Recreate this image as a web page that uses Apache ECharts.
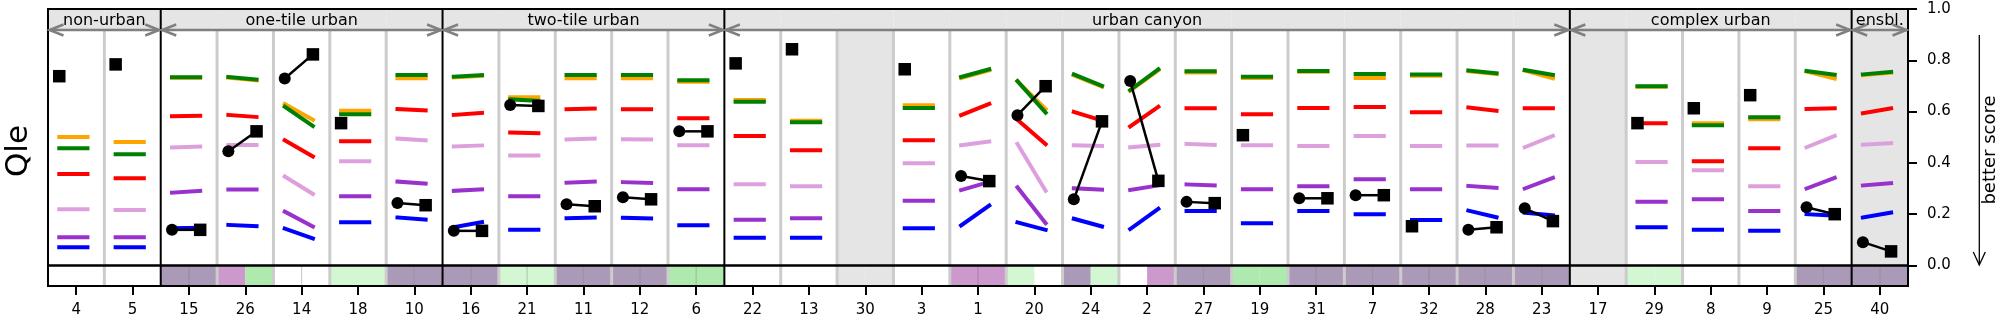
<!DOCTYPE html>
<html>
<head>
<meta charset="utf-8">
<script src="https://cdn.jsdelivr.net/npm/echarts@6/dist/echarts.min.js"></script>
<style>
  html, body { margin: 0; padding: 0; background: #fff; }
  #chart { width: 2005px; height: 325px; }
</style>
</head>
<body>
<div id="chart"></div>
<script>
// Flux sites, in plotting order
const sites = ['4','5','15','26','14','18','10','16','21','11','12','6','22','13','30','3','1','20','24','2','27','19','31','7','32','28','23','17','29','8','9','25','40'];

// Site groups (names and number of sites in each)
const groupNames = ['non-urban', 'one-tile urban', 'two-tile urban', 'urban canyon', 'complex urban', 'ensbl.'];
const groupSizes = [2, 5, 5, 15, 5, 1];

// Benchmark scores: [first model, second model] per site (null = no data)
const orangeVals = [[0.501,0.501],[0.481,0.481],[0.732,0.732],[0.732,0.722],[0.630,0.568],[0.603,0.603],[0.730,0.730],[0.733,0.739],[0.656,0.656],[0.730,0.730],[0.730,0.730],[0.716,0.716],[0.645,0.645],[0.564,0.564],null,[0.625,0.625],[0.731,0.761],[0.718,0.610],[0.741,0.697],[0.681,0.761],[0.752,0.752],[0.731,0.731],[0.755,0.755],[0.731,0.731],[0.740,0.740],[0.757,0.746],[0.760,0.730],null,[0.697,0.697],[0.555,0.555],[0.570,0.570],[0.756,0.729],[0.742,0.752]];
const greenVals = [[0.457,0.457],[0.434,0.434],[0.734,0.734],[0.735,0.725],[0.619,0.544],[0.590,0.590],[0.743,0.743],[0.736,0.742],[0.648,0.642],[0.743,0.743],[0.743,0.743],[0.722,0.722],[0.638,0.638],[0.558,0.558],null,[0.614,0.614],[0.735,0.765],[0.719,0.596],[0.745,0.700],[0.684,0.765],[0.757,0.757],[0.736,0.736],[0.758,0.758],[0.747,0.747],[0.745,0.745],[0.760,0.749],[0.762,0.743],null,[0.699,0.699],[0.547,0.547],[0.578,0.578],[0.758,0.744],[0.745,0.755]];
const redVals = [[0.357,0.357],[0.340,0.340],[0.582,0.584],[0.587,0.579],[0.488,0.425],[0.484,0.484],[0.610,0.605],[0.587,0.595],[0.518,0.516],[0.609,0.612],[0.609,0.609],[0.574,0.574],[0.505,0.505],[0.449,0.449],null,[0.488,0.488],[0.586,0.630],[0.568,0.473],[0.599,0.565],[0.542,0.619],[0.613,0.613],[0.590,0.590],[0.614,0.614],[0.618,0.618],[0.597,0.597],[0.616,0.603],[0.613,0.613],null,[0.555,0.555],[0.406,0.406],[0.457,0.457],[0.610,0.613],[0.594,0.613]];
const plumVals = [[0.219,0.219],[0.216,0.216],[0.460,0.464],[0.470,0.470],[0.347,0.279],[0.406,0.406],[0.495,0.488],[0.464,0.468],[0.429,0.429],[0.491,0.495],[0.492,0.491],[0.469,0.469],[0.317,0.317],[0.309,0.309],null,[0.399,0.399],[0.469,0.483],[0.474,0.291],[0.469,0.466],[0.461,0.470],[0.474,0.470],[0.469,0.469],[0.466,0.466],[0.505,0.505],[0.466,0.466],[0.468,0.468],[0.461,0.505],null,[0.403,0.403],[0.371,0.371],[0.309,0.309],[0.461,0.505],[0.471,0.477]];
const purpleVals = [[0.110,0.110],[0.110,0.110],[0.284,0.291],[0.296,0.296],[0.210,0.152],[0.270,0.270],[0.327,0.319],[0.291,0.297],[0.270,0.270],[0.323,0.327],[0.325,0.322],[0.297,0.297],[0.178,0.178],[0.184,0.184],null,[0.252,0.252],[0.294,0.326],[0.305,0.165],[0.301,0.296],[0.294,0.312],[0.316,0.312],[0.297,0.297],[0.309,0.309],[0.336,0.336],[0.297,0.297],[0.310,0.303],[0.300,0.342],null,[0.248,0.248],[0.258,0.258],[0.212,0.212],[0.300,0.342],[0.312,0.321]];
const blueVals = [[0.071,0.071],[0.071,0.071],[0.145,0.147],[0.158,0.153],[0.144,0.105],[0.169,0.169],[0.187,0.179],[0.149,0.169],[0.139,0.139],[0.184,0.187],[0.186,0.183],[0.157,0.157],[0.108,0.108],[0.108,0.108],null,[0.145,0.145],[0.156,0.234],[0.168,0.139],[0.182,0.152],[0.142,0.221],[0.212,0.212],[0.165,0.165],[0.212,0.212],[0.200,0.200],[0.177,0.177],[0.214,0.188],[0.206,0.196],null,[0.149,0.149],[0.139,0.139],[0.135,0.135],[0.200,0.194],[0.187,0.206]];

// Model scores: first model (circle) and second model (square)
const circleVals = [null,null,0.139,0.445,0.729,null,0.244,0.135,0.626,0.239,0.266,0.523,null,null,null,null,0.349,0.586,0.258,0.719,0.248,null,0.262,0.274,null,0.139,0.223,null,null,null,null,0.227,0.091];
const squareVals = [0.738,0.784,0.139,0.523,0.823,0.555,0.235,0.135,0.622,0.231,0.258,0.523,0.788,0.843,null,0.765,0.329,0.699,0.562,0.330,0.243,0.508,0.262,0.274,0.153,0.149,0.173,null,0.555,0.613,0.664,0.200,0.055];

// Site class strip below zero: left / right half codes
const stripLeft  = ['W','W','P','O','W','L','P','P','L','P','P','G','W','W','X','W','O','L','P','W','P','G','P','P','P','P','P','X','L','W','W','P','P'];
const stripRight = ['W','W','P','G','W','L','P','P','L','P','P','G','W','W','X','W','O','W','L','O','P','G','P','P','P','P','P','X','L','W','W','P','P'];
const stripDivider = [0,0,1,0,1,0,1,1,1,1,1,1,0,0,0,0,1,0,0,0,1,0,1,1,1,1,1,0,0,0,0,1,1];

const stripColors = { W: null, P: '#ab99b8', O: '#cc99cc', G: '#aeeaae', L: '#d3f7d3', X: '#e5e5e5' };
const benchmarkColors = ['#ffa500', '#008000', '#ff0000', '#dda0dd', '#9932cc', '#0000ff'];
const benchmarks = [orangeVals, greenVals, redVals, plumVals, purpleVals, blueVals];

const Y_MIN = -0.08, Y_MAX = 1.0, HEAD = 0.918;
const GRAY = '#e5e5e5';
const FONT = 'DejaVu Sans';

// group start/end indices
const groupStart = [];
(function () { let s = 0; groupSizes.forEach(n => { groupStart.push(s); s += n; }); })();
const groupEnd = groupStart.map((s, k) => s + groupSizes[k] - 1);
const isGroupEnd = i => groupEnd.indexOf(i) >= 0;
const ensembleIndex = sites.indexOf('40');

const chart = echarts.init(document.getElementById('chart'), null, { renderer: 'canvas' });
const siteData = sites.map((_, i) => [i, 0]);

function bgItem(params, api) {
  const i = api.value(0);
  const xl = api.coord([i - 0.5, 0])[0], xr = api.coord([i + 0.5, 0])[0], xc = (xl + xr) / 2;
  const yTop = api.coord([0, Y_MAX])[1], yHead = api.coord([0, HEAD])[1];
  const y0 = api.coord([0, 0])[1], yBot = api.coord([0, Y_MIN])[1];
  const ch = [];
  ch.push({ type: 'rect', shape: { x: xl, y: yTop, width: xr - xl, height: yHead - yTop }, style: { fill: GRAY } });
  const missing = orangeVals[i] === null;
  if (missing || i === ensembleIndex) {
    ch.push({ type: 'rect', shape: { x: xl, y: yHead, width: xr - xl, height: y0 - yHead }, style: { fill: GRAY } });
  }
  const cl = stripColors[stripLeft[i]], cr = stripColors[stripRight[i]];
  if (cl) ch.push({ type: 'rect', shape: { x: xl, y: y0, width: xc - xl, height: yBot - y0 }, style: { fill: cl } });
  if (cr) ch.push({ type: 'rect', shape: { x: xc, y: y0, width: xr - xc, height: yBot - y0 }, style: { fill: cr } });
  return { type: 'group', children: ch };
}

function sepItem(params, api) {
  const i = api.value(0);
  const xr = api.coord([i + 0.5, 0])[0], xc = api.coord([i, 0])[0];
  const yHead = api.coord([0, HEAD])[1], y0 = api.coord([0, 0])[1], yBot = api.coord([0, Y_MIN])[1];
  const ch = [];
  if (i < sites.length - 1 && !isGroupEnd(i)) {
    ch.push({ type: 'line', shape: { x1: xr, y1: yHead, x2: xr, y2: yBot }, style: { stroke: '#cccccc', lineWidth: 3 } });
  }
  if (stripDivider[i]) {
    ch.push({ type: 'line', shape: { x1: xc, y1: y0, x2: xc, y2: yBot }, style: { stroke: 'rgba(90,90,90,0.35)', lineWidth: 1 } });
  }
  return { type: 'group', children: ch };
}

function frameItem(params, api) {
  const n = sites.length;
  const xL = api.coord([-0.5, 0])[0], xR = api.coord([n - 0.5, 0])[0];
  const yTop = api.coord([0, Y_MAX])[1], y0 = api.coord([0, 0])[1], yBot = api.coord([0, Y_MIN])[1];
  const ch = [];
  ch.push({ type: 'line', shape: { x1: xL, y1: y0, x2: xR, y2: y0 }, style: { stroke: '#000', lineWidth: 2.5 } });
  groupEnd.slice(0, -1).forEach(e => {
    const x = api.coord([e + 0.5, 0])[0];
    ch.push({ type: 'line', shape: { x1: x, y1: yTop, x2: x, y2: yBot }, style: { stroke: '#000', lineWidth: 2 } });
  });
  ch.push({ type: 'rect', shape: { x: xL, y: yTop, width: xR - xL, height: yBot - yTop }, style: { fill: null, stroke: '#000', lineWidth: 2 } });
  return { type: 'group', children: ch };
}

function groupItem(params, api) {
  const k = api.value(0);
  const xl = api.coord([groupStart[k] - 0.5, 0])[0] + 1.5;
  const xr = api.coord([groupEnd[k] + 0.5, 0])[0] - 1.5;
  const yA = api.coord([0, HEAD])[1];
  const yT = api.coord([0, (Y_MAX + HEAD) / 2])[1] + 1;
  const hl = 14, hw = 5.5;
  const st = { stroke: '#808080', lineWidth: 2.5, fill: null };
  return {
    type: 'group',
    children: [
      { type: 'line', shape: { x1: xl, y1: yA, x2: xr, y2: yA }, style: st },
      { type: 'polyline', shape: { points: [[xl + hl, yA - hw], [xl, yA], [xl + hl, yA + hw]] }, style: st },
      { type: 'polyline', shape: { points: [[xr - hl, yA - hw], [xr, yA], [xr - hl, yA + hw]] }, style: st },
      { type: 'text', x: (xl + xr) / 2, y: yT, style: { text: groupNames[k], font: '16px "' + FONT + '"', fill: '#000', align: 'center', verticalAlign: 'middle' } }
    ]
  };
}

function benchItem(params, api) {
  const i = api.value(0);
  const ch = [];
  benchmarks.forEach((vals, b) => {
    const v = vals[i];
    if (!v) return;
    const p1 = api.coord([i - 0.3, v[0]]), p2 = api.coord([i + 0.2, v[1]]);
    ch.push({ type: 'line', shape: { x1: p1[0], y1: p1[1], x2: p2[0], y2: p2[1] }, style: { stroke: benchmarkColors[b], lineWidth: 4, lineCap: 'square' } });
  });
  return { type: 'group', children: ch };
}

function markerItem(params, api) {
  const i = api.value(0);
  const ch = [];
  const c = circleVals[i], s = squareVals[i];
  const sq = 12.5;
  if (c !== null && s !== null) {
    const p1 = api.coord([i - 0.3, c]), p2 = api.coord([i + 0.2, s]);
    ch.push({ type: 'line', shape: { x1: p1[0], y1: p1[1], x2: p2[0], y2: p2[1] }, style: { stroke: '#000', lineWidth: 2.5 } });
    ch.push({ type: 'circle', shape: { cx: p1[0], cy: p1[1], r: 6 }, style: { fill: '#000' } });
    ch.push({ type: 'rect', shape: { x: p2[0] - sq / 2, y: p2[1] - sq / 2, width: sq, height: sq }, style: { fill: '#000' } });
  } else if (s !== null) {
    const p = api.coord([i - 0.3, s]);
    ch.push({ type: 'rect', shape: { x: p[0] - sq / 2, y: p[1] - sq / 2, width: sq, height: sq }, style: { fill: '#000' } });
  }
  return { type: 'group', children: ch };
}

const yTicks = [0, 0.2, 0.4, 0.6, 0.8, 1.0];

const option = {
  animation: false,
  backgroundColor: '#fff',
  textStyle: { fontFamily: FONT },
  grid: { left: 48, right: 97, top: 9, bottom: 39, containLabel: false },
  xAxis: [
    {
      type: 'category', data: sites, position: 'bottom', boundaryGap: true,
      axisLine: { show: true, onZero: false, lineStyle: { color: '#000', width: 2 } },
      axisTick: { show: true, alignWithLabel: true, interval: 0, length: 9, lineStyle: { color: '#000', width: 2 } },
      axisLabel: { interval: 0, fontSize: 15, color: '#000', margin: 17, fontFamily: FONT },
      splitLine: { show: false }
    },
    { type: 'value', min: -0.5, max: sites.length - 0.5, show: false, axisLine: { onZero: false }, splitLine: { show: false } }
  ],
  yAxis: {
    type: 'value', min: Y_MIN, max: Y_MAX, position: 'right',
    axisLine: { show: true, onZero: false, lineStyle: { color: '#000', width: 2 } },
    axisTick: { show: true, customValues: yTicks, length: 9, lineStyle: { color: '#000', width: 2 } },
    axisLabel: { customValues: yTicks, formatter: v => v.toFixed(1), fontSize: 15, color: '#000', margin: 19, fontFamily: FONT },
    splitLine: { show: false }
  },
  series: [
    { type: 'custom', xAxisIndex: 1, yAxisIndex: 0, z: 1, data: siteData, encode: { x: 0, y: 1 }, renderItem: bgItem, silent: true },
    { type: 'custom', xAxisIndex: 1, yAxisIndex: 0, z: 2, data: siteData, encode: { x: 0, y: 1 }, renderItem: sepItem, silent: true },
    { type: 'custom', xAxisIndex: 1, yAxisIndex: 0, z: 3, data: [[0, 0]], encode: { x: 0, y: 1 }, renderItem: frameItem, silent: true },
    { type: 'custom', xAxisIndex: 1, yAxisIndex: 0, z: 4, data: groupNames.map((_, k) => [k, 0]), encode: { x: 0, y: 1 }, renderItem: groupItem, silent: true },
    { type: 'custom', xAxisIndex: 1, yAxisIndex: 0, z: 5, data: siteData, encode: { x: 0, y: 1 }, renderItem: benchItem, silent: true },
    { type: 'custom', xAxisIndex: 1, yAxisIndex: 0, z: 6, data: siteData, encode: { x: 0, y: 1 }, renderItem: markerItem, silent: true }
  ],
  graphic: [
    { type: 'text', x: 19, y: 151, rotation: Math.PI / 2, style: { text: 'Qle', font: '31px "' + FONT + '"', fill: '#000', align: 'center', verticalAlign: 'middle' } },
    { type: 'text', x: 1990, y: 150, rotation: Math.PI / 2, style: { text: 'better score', font: '18px "' + FONT + '"', fill: '#000', align: 'center', verticalAlign: 'middle' } },
    { type: 'line', shape: { x1: 1979.3, y1: 35, x2: 1979.3, y2: 265 }, style: { stroke: '#000', lineWidth: 1.3 } },
    { type: 'polyline', shape: { points: [[1973.3, 252], [1979.3, 265], [1985.3, 252]] }, style: { stroke: '#000', lineWidth: 1.3, fill: null } }
  ]
};

chart.setOption(option);
</script>
</body>
</html>
